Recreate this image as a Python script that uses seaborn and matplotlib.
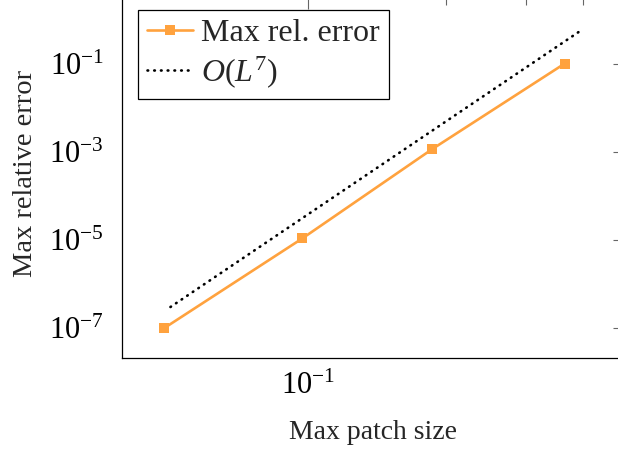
import numpy as np
import pandas as pd
import matplotlib
matplotlib.use("Agg")
import matplotlib.pyplot as plt
import seaborn as sns
from matplotlib.ticker import FixedLocator, NullFormatter

# Convergence data
patch_size = [0.0485, 0.0972, 0.187, 0.364]
max_rel_error = [1.0e-7, 1.09e-5, 1.17e-3, 1.02e-1]

# Reference slope line O(L^7)
ref_x = [0.05, 0.4]
ref_const = 384.0
ref_order = 7

x_major_ticks = [0.1]
x_minor_ticks = [0.2, 0.3, 0.4]
y_major_ticks = [1e-7, 1e-5, 1e-3, 1e-1]

sns.set_theme(style="white")
plt.rcParams["font.family"] = ["Liberation Serif", "DejaVu Serif"]
plt.rcParams["mathtext.fontset"] = "custom"
plt.rcParams["mathtext.rm"] = "Liberation Serif"
plt.rcParams["mathtext.it"] = "Liberation Serif:italic"
plt.rcParams["mathtext.bf"] = "Liberation Serif:bold"

W, H = 618, 450
fig = plt.figure(figsize=(W / 100, H / 100), dpi=100)
fig.patch.set_facecolor("white")
ax = fig.add_axes([122 / W, (H - 358) / H, (624 - 122) / W, (358 + 2) / H])
ax.set_facecolor("white")

orange = "#FFA23E"
df = pd.DataFrame({"size": patch_size, "err": max_rel_error})
sns.lineplot(data=df, x="size", y="err", ax=ax, color=orange, lw=1.9,
             marker="s", markersize=6.5, markeredgewidth=0,
             label="Max rel. error")

ref_y = [ref_const * v ** ref_order for v in ref_x]
ref_df = pd.DataFrame({"size": ref_x, "err": ref_y})
sns.lineplot(data=ref_df, x="size", y="err", ax=ax, color="black", lw=1.9,
             label=r"$O(L^7)$")
ref_line = ax.get_lines()[-1]
ref_line.set_dashes([0.25, 2.3])
ref_line.set_dash_capstyle("round")

ax.set_xscale("log")
ax.set_yscale("log")
ax.set_xlim(10 ** -1.407, 10 ** -0.309)
ax.set_ylim(10 ** -7.682, 10 ** 0.5)

ax.xaxis.set_major_locator(FixedLocator(x_major_ticks))
ax.xaxis.set_minor_locator(FixedLocator(x_minor_ticks))
ax.xaxis.set_minor_formatter(NullFormatter())
ax.set_xticklabels([r"$10^{-1}$"])
ax.yaxis.set_major_locator(FixedLocator(y_major_ticks))
ax.yaxis.set_minor_locator(FixedLocator([]))
ax.set_yticklabels([r"$10^{-7}$", r"$10^{-5}$", r"$10^{-3}$", r"$10^{-1}$"])

ax.tick_params(which="both", direction="in", top=True, right=True,
               color="#666666", width=0.8, labelsize=22, colors="black")
ax.tick_params(which="major", length=8)
ax.tick_params(which="minor", length=5)
ax.tick_params(axis="x", which="major", pad=10)
ax.tick_params(axis="y", which="major", pad=13)

for s in ax.spines.values():
    s.set_color("black")
    s.set_linewidth(0.9)
    s.set_visible(True)

ax.set_xlabel("Max patch size", fontsize=20)
ax.set_ylabel("Max relative error", fontsize=20.5)
ax.xaxis.set_label_coords(0.5, -(420 - 358) / 360, transform=ax.transAxes)
ax.yaxis.set_label_coords(-(122 - 38) / 502, (358 - 173) / 360)

leg = ax.legend(loc="upper left", bbox_to_anchor=(138 / W, 1 - 10 / H),
                bbox_transform=fig.transFigure, borderaxespad=0,
                frameon=True, fancybox=False, framealpha=1, edgecolor="black",
                fontsize=23, handlelength=1.45, handletextpad=0.25,
                labelspacing=0.2, borderpad=0.28)
leg.get_frame().set_linewidth(0.9)

fig.savefig("out.png", dpi=100)
